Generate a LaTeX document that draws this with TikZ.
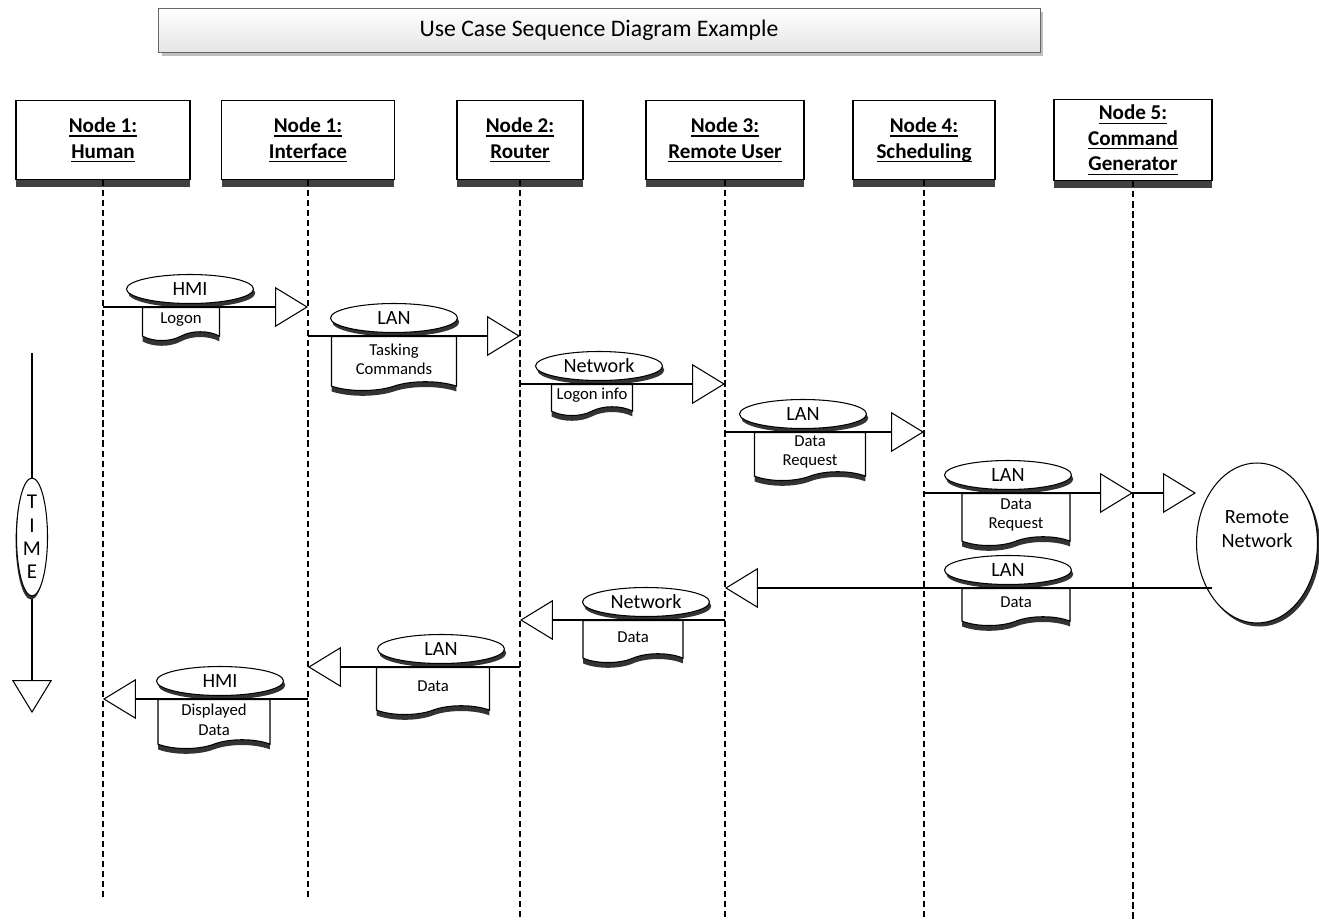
\documentclass[tikz,border=0pt]{standalone}
\usepackage{fontspec}
\setmainfont{Carlito}
\usetikzlibrary{arrows.meta, positioning, shapes.geometric, shapes.symbols,
                shadows, calc}
\newcommand\undl[1]{\tikz[baseline=(u.base)]{%
    \node[inner sep=0pt, outer sep=0pt, minimum width=0pt, minimum height=0pt,
          draw=none, fill=none] (u) {#1};
    \draw[line width=0.7pt] ([yshift=-1.9pt]u.base west) -- ([yshift=-1.9pt]u.base east);}}

\begin{document}
\begin{tikzpicture}[x=0.02cm, y=-0.02cm,
      hdr/.style={draw, fill=white, text=black, line width=0.7pt,
                  minimum height=1.58cm, align=center,
                  font=\fontsize{12}{14.5}\selectfont\bfseries,
                  drop shadow={shadow xshift=0pt, shadow yshift=-4pt,
                               fill=black!75, opacity=1}},
      life/.style={line width=0.7pt, dash pattern=on 3.5pt off 2.2pt},
      lbl/.style={ellipse, draw, fill=white, line width=0.6pt,
                  minimum width=2.54cm, minimum height=0.58cm, inner sep=0pt,
                  font=\fontsize{11.5}{13}\selectfont,
                  drop shadow={shadow xshift=1pt, shadow yshift=-2.3pt,
                               fill=black!80, opacity=1}},
      doc/.style={tape, tape bend top=none, draw, fill=white, line width=0.6pt,
                  anchor=north, inner sep=1pt, align=center,
                  font=\fontsize{9.5}{11}\selectfont,
                  drop shadow={shadow xshift=0pt, shadow yshift=-3pt,
                               fill=black!80, opacity=1}},
      msg/.style={line width=0.6pt,
                  -{Triangle[length=18.7pt, width=22.7pt, fill=white]}}]
    \useasboundingbox (0,0) rectangle (1319,920);

    % Title
    \node[draw=black!60, top color=white, bottom color=black!10,
          minimum width=17.64cm, minimum height=0.88cm,
          font=\fontsize{13.5}{16}\selectfont,
          drop shadow={shadow xshift=2pt, shadow yshift=-2pt,
                       fill=black!25, opacity=1}]
          (title) at (599,30) {Use Case Sequence Diagram Example};

    % Lifeline heads
    \foreach \n/\x/\w/\t in {
        hHuman/103/3.48/{\undl{Node 1:}\\\undl{Human}},
        hIface/308/3.46/{\undl{Node 1:}\\\undl{Interface}},
        hRouter/520/2.52/{\undl{Node 2:}\\\undl{Router}},
        hRemote/725/3.16/{\undl{Node 3:}\\\undl{Remote User}},
        hSched/924/2.84/{\undl{Node 4:}\\\undl{Scheduling}},
        hCmd/1133/3.16/{\undl{Node 5:}\\\undl{Command}\\\undl{Generator}}} {
      \node[hdr, minimum width=\w cm] (\n) at (\x,140) {\t};
    }
    \foreach \n/\e in {hHuman/900, hIface/900, hRouter/920, hRemote/920,
                       hSched/920, hCmd/920} {
      \coordinate (e\n) at (\n |- 0,\e);
      \draw[life] (\n.south) -- (e\n);
    }

    % Time axis
    \coordinate (tTop) at (32,353);
    \coordinate (tEnd) at (32,713);
    \draw[msg] (tTop) -- (tEnd);
    \node[ellipse, draw, fill=white, line width=0.6pt, minimum width=0.62cm,
          minimum height=2.36cm, inner sep=0pt,
          drop shadow={shadow xshift=-0.5pt, shadow yshift=-2pt,
                       fill=black!80, opacity=1},
          label={[align=center, font=\fontsize{12}{13.2}\selectfont]center:T\\I\\M\\E}]
          (time) at (32,537) {};

    % Remote network
    \node[ellipse, draw, fill=white, line width=0.6pt, minimum width=2.42cm,
          minimum height=3.2cm, inner sep=0pt, align=center,
          font=\fontsize{11.5}{13.6}\selectfont,
          drop shadow={shadow xshift=1.5pt, shadow yshift=-2pt,
                       fill=black!80, opacity=1}]
          (RN) at (1257,543) {Remote\\Network\\[2pt]};

    % Logon
    \node[doc, minimum width=1.54cm, minimum height=0.66cm] (d1) at (181,307) {Logon};
    \node[lbl] (l1) at (190,289) {HMI};
    \draw[msg] (hHuman |- d1.north) -- (hIface |- d1.north);

    % Tasking commands
    \node[doc, minimum width=2.5cm, minimum height=1.08cm] (d2) at (394,336) {Tasking\\Commands};
    \node[lbl] (l2) at (394,318) {LAN};
    \draw[msg] (hIface |- d2.north) -- (hRouter |- d2.north);

    % Logon info
    \node[doc, minimum width=1.62cm, minimum height=0.62cm] (d3) at (592,384) {Logon info};
    \node[lbl] (l3) at (599,366) {Network};
    \draw[msg] (hRouter |- d3.north) -- (hRemote |- d3.north);

    % Data request
    \node[doc, minimum width=2.22cm, minimum height=0.96cm] (d4) at (810,432) {Data\\Request};
    \node[lbl] (l4) at (803,414) {LAN};
    \draw[msg] (hRemote |- d4.north) -- (hSched |- d4.north);

    % Data request to remote network
    \node[doc, minimum width=2.16cm, minimum height=1.04cm] (d5) at (1016,493) {Data\\Request};
    \node[lbl] (l5) at (1008,475) {LAN};
    \draw[msg] (hSched |- d5.north) -- (hCmd |- d5.north);
    \draw[msg] (hCmd |- d5.north) -- (RN.west |- d5.north);

    % Data back
    \node[doc, minimum width=2.16cm, minimum height=0.74cm] (d7) at (1016,588) {Data};
    \node[lbl] (l7) at (1008,570) {LAN};
    \draw[msg] ($(RN.west |- d7.north)+(16,0)$) -- (hRemote |- d7.north);

    \node[doc, minimum width=2.0cm, minimum height=0.84cm] (d8) at (633,620) {Data};
    \node[lbl] (l8) at (646,602) {Network};
    \draw[msg] (hRemote |- d8.north) -- (hRouter |- d8.north);

    \node[doc, minimum width=2.26cm, minimum height=0.94cm] (d9) at (433,667) {Data};
    \node[lbl] (l9) at (441,649) {LAN};
    \draw[msg] (hRouter |- d9.north) -- (hIface |- d9.north);

    \node[doc, minimum width=2.24cm, minimum height=0.98cm] (d10) at (214,699) {Displayed\\Data};
    \node[lbl] (l10) at (220,681) {HMI};
    \draw[msg] (hIface |- d10.north) -- (hHuman |- d10.north);
  \end{tikzpicture}
\end{document}
